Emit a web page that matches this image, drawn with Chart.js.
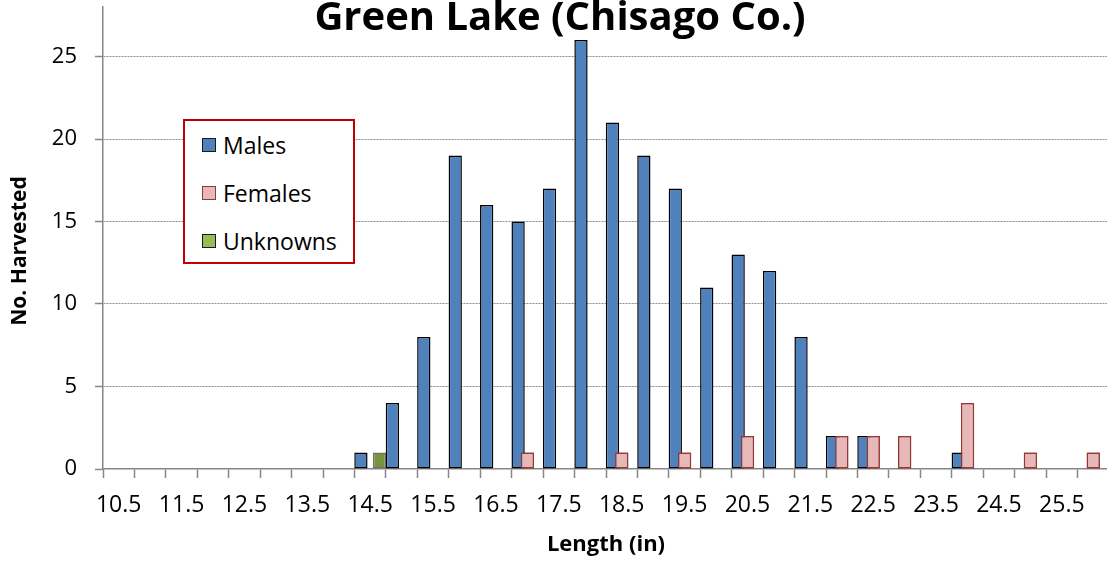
<!DOCTYPE html>
<html>
<head>
<meta charset="utf-8">
<title>Green Lake (Chisago Co.)</title>
<script src="https://cdn.jsdelivr.net/npm/chart.js@4.4.1/dist/chart.umd.min.js"></script>
<style>
  body { margin: 0; background: #fff; overflow: hidden; }
  #wrap { position: relative; width: 1107px; height: 565px; overflow: hidden; }
  #legend {
    position: absolute; left: 183px; top: 119px; width: 168px; height: 141px;
    border: 2px solid #c00000; background: #fff;
    font-family: "Open Sans", sans-serif; font-size: 23px; color: #000;
  }
  .legend-item { display: flex; align-items: center; height: 48px; padding-left: 17px; }
  .legend-box { width: 12px; height: 12px; border: 1.5px solid #000; margin-right: 7px; }
</style>
</head>
<body>
<div id="wrap">
  <!-- plot runs a little past the right edge, as in the picture -->
  <canvas id="harvestChart" width="1109" height="565"></canvas>
  <div id="legend"></div>
</div>
<script>
// ---data---

const chartTitle = "Green Lake (Chisago Co.)";
const yAxisTitle = "No. Harvested";
const lengthCategories = [
  "10.5", "11.0", "11.5", "12.0", "12.5", "13.0", "13.5", "14.0",
  "14.5", "15.0", "15.5", "16.0", "16.5", "17.0", "17.5", "18.0",
  "18.5", "19.0", "19.5", "20.0", "20.5", "21.0", "21.5", "22.0",
  "22.5", "23.0", "23.5", "24.0", "24.5", "25.0", "25.5", "26.0"
];
const xTickLabels = [
  "10.5", "11.5", "12.5", "13.5", "14.5", "15.5", "16.5", "17.5",
  "18.5", "19.5", "20.5", "21.5", "22.5", "23.5", "24.5", "25.5"
];
const malesHarvested = [
  0, 0, 0, 0, 0, 0, 0, 0,
  1, 4, 8, 19, 16, 15, 17, 26,
  21, 19, 17, 11, 13, 12, 8, 2,
  2, 0, 0, 1, 0, 0, 0, 0
];
const femalesHarvested = [
  0, 0, 0, 0, 0, 0, 0, 0,
  0, 0, 0, 0, 0, 1, 0, 0,
  1, 0, 1, 0, 2, 0, 0, 2,
  2, 2, 0, 4, 0, 1, 0, 1
];
const unknownsHarvested = [
  0, 0, 0, 0, 0, 0, 0, 0,
  1, 0, 0, 0, 0, 0, 0, 0,
  0, 0, 0, 0, 0, 0, 0, 0,
  0, 0, 0, 0, 0, 0, 0, 0
];

// ---chart script---

var axisGray = "#868686";
var legendSwatch = ["#4f81bd", "#e6b9b8", "#9bbb59"];

// titles drawn over the plot like the Excel ones
const overlayTitles = {
  id: "overlayTitles",
  afterDraw(chart) {
    const ctx = chart.ctx;
    ctx.save();
    ctx.fillStyle = "#000";
    ctx.textAlign = "center";
    ctx.textBaseline = "alphabetic";
    ctx.font = 'bold 40px "Open Sans"';
    ctx.fillText(chartTitle, 560, 30);
    ctx.translate(20, 251);
    ctx.rotate(-Math.PI / 2);
    ctx.textBaseline = "middle";
    ctx.font = 'bold 21px "Open Sans"';
    ctx.fillText(yAxisTitle, 0, 0);
    ctx.restore();
  },
};

// females bars overlap the males, draw them again on top
const femalesOnTop = {
  id: "femalesOnTop",
  afterDatasetsDraw(chart) {
    chart.getDatasetMeta(1).controller.draw();
  },
};

var ctxL = document.getElementById("harvestChart").getContext("2d");
var harvestChart = new Chart(ctxL, {
  type: "bar",
  data: {
    labels: lengthCategories,
    datasets: [
      {
        label: "Males",
        data: malesHarvested,
        backgroundColor: "#4f81bd",
        borderColor: "#000000",
        borderWidth: 1.5,
      },
      {
        label: "Females",
        data: femalesHarvested,
        backgroundColor: "#e6b9b8",
        borderColor: "#953735",
        borderWidth: 1.5,
      },
      {
        label: "Unknowns",
        data: unknownsHarvested,
        backgroundColor: "#77933c",
        borderColor: "#6f6f6f",
        borderWidth: 1.5,
      },
    ],
  },
  options: {
    responsive: false,
    animation: false,
    events: [],
    layout: { autoPadding: false, padding: { top: 7, right: 0, bottom: 0, left: 0 } },
    datasets: {
      bar: { categoryPercentage: 0.887, barPercentage: 1.43, borderSkipped: false },
    },
    plugins: {
      legend: { display: false },
      tooltip: { enabled: false },
      title: { display: false },
    },
    scales: {
      x: {
        ticks: {
          autoSkip: false,
          maxRotation: 0,
          padding: 14,
          color: "#000",
          font: { family: "Open Sans", size: 23 },
          callback: function (value, index) {
            var lab = lengthCategories[index];
            return xTickLabels.includes(lab) ? lab : "";
          },
        },
        grid: {
          drawOnChartArea: false,
          tickLength: 9,
          tickColor: axisGray,
          tickWidth: 1.5,
        },
        border: { color: axisGray, width: 1.5 },
        title: {
          display: true,
          text: "Length (in)",
          color: "#000",
          font: { family: "Open Sans", size: 22, weight: "bold" },
          padding: { top: 0, bottom: 7 },
        },
        afterFit: function (scale) {
          scale.height = 96;
          scale.paddingLeft = 0;
          scale.paddingRight = 0;
        },
      },
      y: {
        min: 0,
        max: 28,
        ticks: {
          stepSize: 5,
          includeBounds: false,
          padding: 18,
          color: "#000",
          font: { family: "Open Sans", size: 22 },
        },
        grid: {
          color: function (c) {
            return c.tick && c.tick.value === 0 ? "rgba(0,0,0,0)" : "#8c8c8c";
          },
          lineWidth: 1,
          tickLength: 8,
          tickColor: axisGray,
          tickWidth: 1.5,
        },
        border: { color: axisGray, width: 1.5, dash: [2, 1] },
        afterFit: function (scale) {
          scale.width = 103;
          scale.paddingTop = 0;
          scale.paddingBottom = 0;
        },
      },
    },
  },
  plugins: [femalesOnTop, overlayTitles],
});

// ---legend box---

var legendEl = document.getElementById("legend");
harvestChart.data.datasets.forEach(function (ds, i) {
  var item = document.createElement("div");
  item.className = "legend-item";
  var box = document.createElement("span");
  box.className = "legend-box";
  box.style.background = legendSwatch[i];
  box.style.borderColor = i === 1 ? ds.borderColor : "#1a1a1a";
  var txt = document.createElement("span");
  txt.textContent = ds.label;
  item.appendChild(box);
  item.appendChild(txt);
  legendEl.appendChild(item);
});
</script>
</body>
</html>
